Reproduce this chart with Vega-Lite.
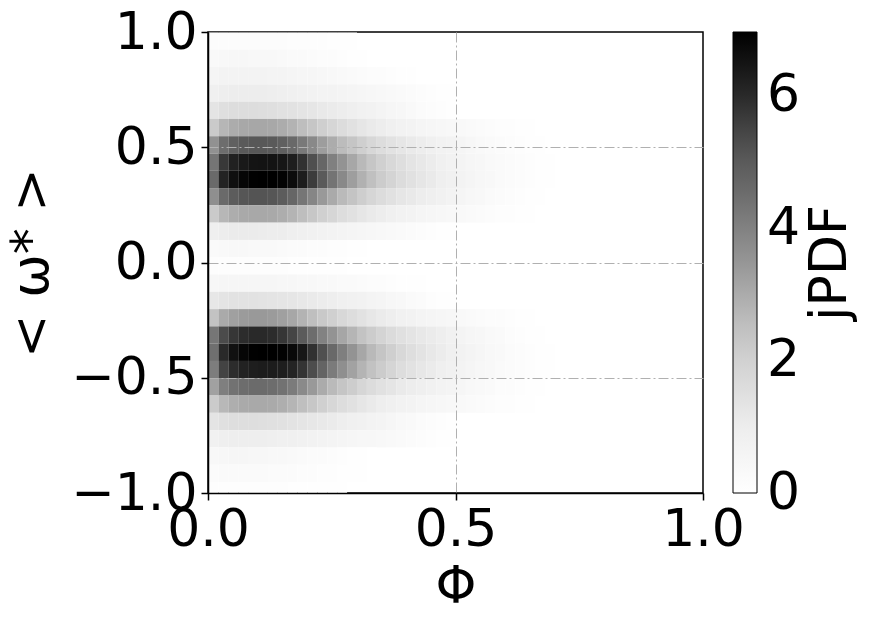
{"$schema":"https://vega.github.io/schema/vega-lite/v6.json","width":495,"height":461,"autosize":{"type":"none"},"padding":{"left":208,"top":32,"right":169,"bottom":133},"background":"white","config":{"font":"DejaVu Sans","view":{"stroke":"black","strokeWidth":1.5},"axis":{"labelFont":"DejaVu Sans","labelFontSize":52,"labelColor":"black","titleFont":"DejaVu Sans","titleFontSize":52,"titleFontWeight":"normal","titleColor":"black","tickColor":"black","tickSize":7,"tickWidth":1.5,"domainColor":"black","domainWidth":1.5,"grid":true,"gridColor":"#b0b0b0","gridDash":[10,3,2,3],"gridWidth":1,"labelPadding":4,"zindex":1,"labelFlush":false,"labelOverlap":false,"labelBound":false}},
"data":{"values":[
{"p":0.01,"w":0.9625,"v":0.16},{"p":0.03,"w":0.9625,"v":0.19},{"p":0.05,"w":0.9625,"v":0.2},{"p":0.07,"w":0.9625,"v":0.2},{"p":0.09,"w":0.9625,"v":0.19},{"p":0.11,"w":0.9625,"v":0.18},{"p":0.13,"w":0.9625,"v":0.17},{"p":0.15,"w":0.9625,"v":0.15},{"p":0.17,"w":0.9625,"v":0.14},{"p":0.19,"w":0.9625,"v":0.12},{"p":0.21,"w":0.9625,"v":0.1},{"p":0.23,"w":0.9625,"v":0.09},{"p":0.25,"w":0.9625,"v":0.07},{"p":0.27,"w":0.9625,"v":0.05},{"p":0.29,"w":0.9625,"v":0.03},
{"p":0.01,"w":0.8875,"v":0.36},{"p":0.03,"w":0.8875,"v":0.43},{"p":0.05,"w":0.8875,"v":0.45},{"p":0.07,"w":0.8875,"v":0.45},{"p":0.09,"w":0.8875,"v":0.43},{"p":0.11,"w":0.8875,"v":0.41},{"p":0.13,"w":0.8875,"v":0.38},{"p":0.15,"w":0.8875,"v":0.35},{"p":0.17,"w":0.8875,"v":0.31},{"p":0.19,"w":0.8875,"v":0.27},{"p":0.21,"w":0.8875,"v":0.23},{"p":0.23,"w":0.8875,"v":0.19},{"p":0.25,"w":0.8875,"v":0.15},{"p":0.27,"w":0.8875,"v":0.11},{"p":0.29,"w":0.8875,"v":0.07},{"p":0.31,"w":0.8875,"v":0.04},{"p":0.33,"w":0.8875,"v":0.02},
{"p":0.01,"w":0.8125,"v":0.6},{"p":0.03,"w":0.8125,"v":0.68},{"p":0.05,"w":0.8125,"v":0.72},{"p":0.07,"w":0.8125,"v":0.72},{"p":0.09,"w":0.8125,"v":0.71},{"p":0.11,"w":0.8125,"v":0.69},{"p":0.13,"w":0.8125,"v":0.66},{"p":0.15,"w":0.8125,"v":0.63},{"p":0.17,"w":0.8125,"v":0.59},{"p":0.19,"w":0.8125,"v":0.55},{"p":0.21,"w":0.8125,"v":0.5},{"p":0.23,"w":0.8125,"v":0.45},{"p":0.25,"w":0.8125,"v":0.4},{"p":0.27,"w":0.8125,"v":0.35},{"p":0.29,"w":0.8125,"v":0.3},{"p":0.31,"w":0.8125,"v":0.25},{"p":0.33,"w":0.8125,"v":0.2},{"p":0.35,"w":0.8125,"v":0.15},{"p":0.37,"w":0.8125,"v":0.1},{"p":0.39,"w":0.8125,"v":0.06},{"p":0.41,"w":0.8125,"v":0.03},
{"p":0.01,"w":0.7375,"v":0.85},{"p":0.03,"w":0.7375,"v":0.95},{"p":0.05,"w":0.7375,"v":1.0},{"p":0.07,"w":0.7375,"v":1.0},{"p":0.09,"w":0.7375,"v":1.0},{"p":0.11,"w":0.7375,"v":0.98},{"p":0.13,"w":0.7375,"v":0.95},{"p":0.15,"w":0.7375,"v":0.92},{"p":0.17,"w":0.7375,"v":0.88},{"p":0.19,"w":0.7375,"v":0.83},{"p":0.21,"w":0.7375,"v":0.78},{"p":0.23,"w":0.7375,"v":0.72},{"p":0.25,"w":0.7375,"v":0.67},{"p":0.27,"w":0.7375,"v":0.62},{"p":0.29,"w":0.7375,"v":0.57},{"p":0.31,"w":0.7375,"v":0.52},{"p":0.33,"w":0.7375,"v":0.46},{"p":0.35,"w":0.7375,"v":0.4},{"p":0.37,"w":0.7375,"v":0.34},{"p":0.39,"w":0.7375,"v":0.28},{"p":0.41,"w":0.7375,"v":0.22},{"p":0.43,"w":0.7375,"v":0.16},{"p":0.45,"w":0.7375,"v":0.1},{"p":0.47,"w":0.7375,"v":0.06},{"p":0.49,"w":0.7375,"v":0.03},
{"p":0.01,"w":0.6625,"v":1.34},{"p":0.03,"w":0.6625,"v":1.5},{"p":0.05,"w":0.6625,"v":1.58},{"p":0.07,"w":0.6625,"v":1.58},{"p":0.09,"w":0.6625,"v":1.58},{"p":0.11,"w":0.6625,"v":1.55},{"p":0.13,"w":0.6625,"v":1.5},{"p":0.15,"w":0.6625,"v":1.45},{"p":0.17,"w":0.6625,"v":1.39},{"p":0.19,"w":0.6625,"v":1.31},{"p":0.21,"w":0.6625,"v":1.23},{"p":0.23,"w":0.6625,"v":1.14},{"p":0.25,"w":0.6625,"v":1.06},{"p":0.27,"w":0.6625,"v":0.98},{"p":0.29,"w":0.6625,"v":0.9},{"p":0.31,"w":0.6625,"v":0.82},{"p":0.33,"w":0.6625,"v":0.73},{"p":0.35,"w":0.6625,"v":0.63},{"p":0.37,"w":0.6625,"v":0.54},{"p":0.39,"w":0.6625,"v":0.44},{"p":0.41,"w":0.6625,"v":0.35},{"p":0.43,"w":0.6625,"v":0.25},{"p":0.45,"w":0.6625,"v":0.16},{"p":0.47,"w":0.6625,"v":0.09},{"p":0.49,"w":0.6625,"v":0.05},
{"p":0.01,"w":0.5875,"v":2.2},{"p":0.03,"w":0.5875,"v":2.76},{"p":0.05,"w":0.5875,"v":2.98},{"p":0.07,"w":0.5875,"v":3.07},{"p":0.09,"w":0.5875,"v":3.1},{"p":0.11,"w":0.5875,"v":3.1},{"p":0.13,"w":0.5875,"v":3.07},{"p":0.15,"w":0.5875,"v":2.98},{"p":0.17,"w":0.5875,"v":2.82},{"p":0.19,"w":0.5875,"v":2.57},{"p":0.21,"w":0.5875,"v":2.33},{"p":0.23,"w":0.5875,"v":2.05},{"p":0.25,"w":0.5875,"v":1.83},{"p":0.27,"w":0.5875,"v":1.61},{"p":0.29,"w":0.5875,"v":1.44},{"p":0.31,"w":0.5875,"v":1.26},{"p":0.33,"w":0.5875,"v":1.1},{"p":0.35,"w":0.5875,"v":0.98},{"p":0.37,"w":0.5875,"v":0.87},{"p":0.39,"w":0.5875,"v":0.76},{"p":0.41,"w":0.5875,"v":0.68},{"p":0.43,"w":0.5875,"v":0.6},{"p":0.45,"w":0.5875,"v":0.54},{"p":0.47,"w":0.5875,"v":0.48},{"p":0.49,"w":0.5875,"v":0.41},{"p":0.51,"w":0.5875,"v":0.34},{"p":0.53,"w":0.5875,"v":0.28},{"p":0.55,"w":0.5875,"v":0.23},{"p":0.57,"w":0.5875,"v":0.18},{"p":0.59,"w":0.5875,"v":0.14},{"p":0.61,"w":0.5875,"v":0.1},{"p":0.63,"w":0.5875,"v":0.06},{"p":0.65,"w":0.5875,"v":0.04},{"p":0.67,"w":0.5875,"v":0.02},
{"p":0.01,"w":0.5125,"v":3.59},{"p":0.03,"w":0.5125,"v":4.49},{"p":0.05,"w":0.5125,"v":4.85},{"p":0.07,"w":0.5125,"v":5.0},{"p":0.09,"w":0.5125,"v":5.05},{"p":0.11,"w":0.5125,"v":5.05},{"p":0.13,"w":0.5125,"v":5.0},{"p":0.15,"w":0.5125,"v":4.85},{"p":0.17,"w":0.5125,"v":4.6},{"p":0.19,"w":0.5125,"v":4.19},{"p":0.21,"w":0.5125,"v":3.79},{"p":0.23,"w":0.5125,"v":3.33},{"p":0.25,"w":0.5125,"v":2.98},{"p":0.27,"w":0.5125,"v":2.63},{"p":0.29,"w":0.5125,"v":2.35},{"p":0.31,"w":0.5125,"v":2.05},{"p":0.33,"w":0.5125,"v":1.79},{"p":0.35,"w":0.5125,"v":1.59},{"p":0.37,"w":0.5125,"v":1.41},{"p":0.39,"w":0.5125,"v":1.24},{"p":0.41,"w":0.5125,"v":1.11},{"p":0.43,"w":0.5125,"v":0.98},{"p":0.45,"w":0.5125,"v":0.88},{"p":0.47,"w":0.5125,"v":0.78},{"p":0.49,"w":0.5125,"v":0.67},{"p":0.51,"w":0.5125,"v":0.56},{"p":0.53,"w":0.5125,"v":0.45},{"p":0.55,"w":0.5125,"v":0.37},{"p":0.57,"w":0.5125,"v":0.3},{"p":0.59,"w":0.5125,"v":0.23},{"p":0.61,"w":0.5125,"v":0.16},{"p":0.63,"w":0.5125,"v":0.1},{"p":0.65,"w":0.5125,"v":0.06},{"p":0.67,"w":0.5125,"v":0.03},{"p":0.69,"w":0.5125,"v":0.02},
{"p":0.01,"w":0.4375,"v":4.29},{"p":0.03,"w":0.4375,"v":5.72},{"p":0.05,"w":0.4375,"v":6.18},{"p":0.07,"w":0.4375,"v":6.37},{"p":0.09,"w":0.4375,"v":6.47},{"p":0.11,"w":0.4375,"v":6.5},{"p":0.13,"w":0.4375,"v":6.5},{"p":0.15,"w":0.4375,"v":6.44},{"p":0.17,"w":0.4375,"v":6.24},{"p":0.19,"w":0.4375,"v":5.85},{"p":0.21,"w":0.4375,"v":5.27},{"p":0.23,"w":0.4375,"v":4.68},{"p":0.25,"w":0.4375,"v":4.03},{"p":0.27,"w":0.4375,"v":3.54},{"p":0.29,"w":0.4375,"v":3.09},{"p":0.31,"w":0.4375,"v":2.7},{"p":0.33,"w":0.4375,"v":2.34},{"p":0.35,"w":0.4375,"v":2.02},{"p":0.37,"w":0.4375,"v":1.76},{"p":0.39,"w":0.4375,"v":1.53},{"p":0.41,"w":0.4375,"v":1.33},{"p":0.43,"w":0.4375,"v":1.16},{"p":0.45,"w":0.4375,"v":1.01},{"p":0.47,"w":0.4375,"v":0.86},{"p":0.49,"w":0.4375,"v":0.74},{"p":0.51,"w":0.4375,"v":0.63},{"p":0.53,"w":0.4375,"v":0.53},{"p":0.55,"w":0.4375,"v":0.44},{"p":0.57,"w":0.4375,"v":0.36},{"p":0.59,"w":0.4375,"v":0.29},{"p":0.61,"w":0.4375,"v":0.21},{"p":0.63,"w":0.4375,"v":0.15},{"p":0.65,"w":0.4375,"v":0.1},{"p":0.67,"w":0.4375,"v":0.06},{"p":0.69,"w":0.4375,"v":0.03},
{"p":0.01,"w":0.3625,"v":4.59},{"p":0.03,"w":0.3625,"v":6.12},{"p":0.05,"w":0.3625,"v":6.6},{"p":0.07,"w":0.3625,"v":6.81},{"p":0.09,"w":0.3625,"v":6.92},{"p":0.11,"w":0.3625,"v":6.95},{"p":0.13,"w":0.3625,"v":6.95},{"p":0.15,"w":0.3625,"v":6.88},{"p":0.17,"w":0.3625,"v":6.67},{"p":0.19,"w":0.3625,"v":6.26},{"p":0.21,"w":0.3625,"v":5.63},{"p":0.23,"w":0.3625,"v":5.0},{"p":0.25,"w":0.3625,"v":4.31},{"p":0.27,"w":0.3625,"v":3.79},{"p":0.29,"w":0.3625,"v":3.3},{"p":0.31,"w":0.3625,"v":2.88},{"p":0.33,"w":0.3625,"v":2.5},{"p":0.35,"w":0.3625,"v":2.15},{"p":0.37,"w":0.3625,"v":1.88},{"p":0.39,"w":0.3625,"v":1.63},{"p":0.41,"w":0.3625,"v":1.42},{"p":0.43,"w":0.3625,"v":1.24},{"p":0.45,"w":0.3625,"v":1.08},{"p":0.47,"w":0.3625,"v":0.92},{"p":0.49,"w":0.3625,"v":0.79},{"p":0.51,"w":0.3625,"v":0.67},{"p":0.53,"w":0.3625,"v":0.56},{"p":0.55,"w":0.3625,"v":0.47},{"p":0.57,"w":0.3625,"v":0.38},{"p":0.59,"w":0.3625,"v":0.31},{"p":0.61,"w":0.3625,"v":0.23},{"p":0.63,"w":0.3625,"v":0.16},{"p":0.65,"w":0.3625,"v":0.1},{"p":0.67,"w":0.3625,"v":0.06},{"p":0.69,"w":0.3625,"v":0.03},
{"p":0.01,"w":0.2875,"v":3.66},{"p":0.03,"w":0.2875,"v":4.58},{"p":0.05,"w":0.2875,"v":4.94},{"p":0.07,"w":0.2875,"v":5.1},{"p":0.09,"w":0.2875,"v":5.15},{"p":0.11,"w":0.2875,"v":5.15},{"p":0.13,"w":0.2875,"v":5.1},{"p":0.15,"w":0.2875,"v":4.94},{"p":0.17,"w":0.2875,"v":4.69},{"p":0.19,"w":0.2875,"v":4.27},{"p":0.21,"w":0.2875,"v":3.86},{"p":0.23,"w":0.2875,"v":3.4},{"p":0.25,"w":0.2875,"v":3.04},{"p":0.27,"w":0.2875,"v":2.68},{"p":0.29,"w":0.2875,"v":2.39},{"p":0.31,"w":0.2875,"v":2.09},{"p":0.33,"w":0.2875,"v":1.83},{"p":0.35,"w":0.2875,"v":1.62},{"p":0.37,"w":0.2875,"v":1.44},{"p":0.39,"w":0.2875,"v":1.26},{"p":0.41,"w":0.2875,"v":1.13},{"p":0.43,"w":0.2875,"v":1.0},{"p":0.45,"w":0.2875,"v":0.9},{"p":0.47,"w":0.2875,"v":0.8},{"p":0.49,"w":0.2875,"v":0.68},{"p":0.51,"w":0.2875,"v":0.57},{"p":0.53,"w":0.2875,"v":0.46},{"p":0.55,"w":0.2875,"v":0.38},{"p":0.57,"w":0.2875,"v":0.3},{"p":0.59,"w":0.2875,"v":0.23},{"p":0.61,"w":0.2875,"v":0.16},{"p":0.63,"w":0.2875,"v":0.1},{"p":0.65,"w":0.2875,"v":0.06},{"p":0.67,"w":0.2875,"v":0.03},{"p":0.69,"w":0.2875,"v":0.02},
{"p":0.01,"w":0.2125,"v":2.19},{"p":0.03,"w":0.2125,"v":2.74},{"p":0.05,"w":0.2125,"v":2.96},{"p":0.07,"w":0.2125,"v":3.05},{"p":0.09,"w":0.2125,"v":3.08},{"p":0.11,"w":0.2125,"v":3.08},{"p":0.13,"w":0.2125,"v":3.05},{"p":0.15,"w":0.2125,"v":2.96},{"p":0.17,"w":0.2125,"v":2.8},{"p":0.19,"w":0.2125,"v":2.56},{"p":0.21,"w":0.2125,"v":2.31},{"p":0.23,"w":0.2125,"v":2.03},{"p":0.25,"w":0.2125,"v":1.82},{"p":0.27,"w":0.2125,"v":1.6},{"p":0.29,"w":0.2125,"v":1.43},{"p":0.31,"w":0.2125,"v":1.25},{"p":0.33,"w":0.2125,"v":1.09},{"p":0.35,"w":0.2125,"v":0.97},{"p":0.37,"w":0.2125,"v":0.86},{"p":0.39,"w":0.2125,"v":0.75},{"p":0.41,"w":0.2125,"v":0.68},{"p":0.43,"w":0.2125,"v":0.6},{"p":0.45,"w":0.2125,"v":0.54},{"p":0.47,"w":0.2125,"v":0.48},{"p":0.49,"w":0.2125,"v":0.41},{"p":0.51,"w":0.2125,"v":0.34},{"p":0.53,"w":0.2125,"v":0.28},{"p":0.55,"w":0.2125,"v":0.22},{"p":0.57,"w":0.2125,"v":0.18},{"p":0.59,"w":0.2125,"v":0.14},{"p":0.61,"w":0.2125,"v":0.1},{"p":0.63,"w":0.2125,"v":0.06},{"p":0.65,"w":0.2125,"v":0.04},{"p":0.67,"w":0.2125,"v":0.02},
{"p":0.01,"w":0.1375,"v":0.89},{"p":0.03,"w":0.1375,"v":1.0},{"p":0.05,"w":0.1375,"v":1.05},{"p":0.07,"w":0.1375,"v":1.05},{"p":0.09,"w":0.1375,"v":1.05},{"p":0.11,"w":0.1375,"v":1.03},{"p":0.13,"w":0.1375,"v":1.0},{"p":0.15,"w":0.1375,"v":0.97},{"p":0.17,"w":0.1375,"v":0.92},{"p":0.19,"w":0.1375,"v":0.87},{"p":0.21,"w":0.1375,"v":0.82},{"p":0.23,"w":0.1375,"v":0.76},{"p":0.25,"w":0.1375,"v":0.7},{"p":0.27,"w":0.1375,"v":0.65},{"p":0.29,"w":0.1375,"v":0.6},{"p":0.31,"w":0.1375,"v":0.55},{"p":0.33,"w":0.1375,"v":0.48},{"p":0.35,"w":0.1375,"v":0.42},{"p":0.37,"w":0.1375,"v":0.36},{"p":0.39,"w":0.1375,"v":0.29},{"p":0.41,"w":0.1375,"v":0.23},{"p":0.43,"w":0.1375,"v":0.17},{"p":0.45,"w":0.1375,"v":0.11},{"p":0.47,"w":0.1375,"v":0.06},{"p":0.49,"w":0.1375,"v":0.03},
{"p":0.01,"w":0.0625,"v":0.3},{"p":0.03,"w":0.0625,"v":0.36},{"p":0.05,"w":0.0625,"v":0.38},{"p":0.07,"w":0.0625,"v":0.38},{"p":0.09,"w":0.0625,"v":0.36},{"p":0.11,"w":0.0625,"v":0.35},{"p":0.13,"w":0.0625,"v":0.32},{"p":0.15,"w":0.0625,"v":0.29},{"p":0.17,"w":0.0625,"v":0.26},{"p":0.19,"w":0.0625,"v":0.23},{"p":0.21,"w":0.0625,"v":0.2},{"p":0.23,"w":0.0625,"v":0.16},{"p":0.25,"w":0.0625,"v":0.13},{"p":0.27,"w":0.0625,"v":0.1},{"p":0.29,"w":0.0625,"v":0.06},{"p":0.31,"w":0.0625,"v":0.03},
{"p":0.01,"w":-0.0125,"v":0.1},{"p":0.03,"w":-0.0125,"v":0.11},{"p":0.05,"w":-0.0125,"v":0.12},{"p":0.07,"w":-0.0125,"v":0.12},{"p":0.09,"w":-0.0125,"v":0.12},{"p":0.11,"w":-0.0125,"v":0.11},{"p":0.13,"w":-0.0125,"v":0.1},{"p":0.15,"w":-0.0125,"v":0.09},{"p":0.17,"w":-0.0125,"v":0.08},{"p":0.19,"w":-0.0125,"v":0.07},{"p":0.21,"w":-0.0125,"v":0.06},{"p":0.23,"w":-0.0125,"v":0.05},{"p":0.25,"w":-0.0125,"v":0.04},{"p":0.27,"w":-0.0125,"v":0.03},
{"p":0.01,"w":-0.0875,"v":0.46},{"p":0.03,"w":-0.0875,"v":0.52},{"p":0.05,"w":-0.0875,"v":0.55},{"p":0.07,"w":-0.0875,"v":0.55},{"p":0.09,"w":-0.0875,"v":0.54},{"p":0.11,"w":-0.0875,"v":0.53},{"p":0.13,"w":-0.0875,"v":0.51},{"p":0.15,"w":-0.0875,"v":0.49},{"p":0.17,"w":-0.0875,"v":0.46},{"p":0.19,"w":-0.0875,"v":0.43},{"p":0.21,"w":-0.0875,"v":0.4},{"p":0.23,"w":-0.0875,"v":0.37},{"p":0.25,"w":-0.0875,"v":0.33},{"p":0.27,"w":-0.0875,"v":0.3},{"p":0.29,"w":-0.0875,"v":0.27},{"p":0.31,"w":-0.0875,"v":0.23},{"p":0.33,"w":-0.0875,"v":0.19},{"p":0.35,"w":-0.0875,"v":0.15},{"p":0.37,"w":-0.0875,"v":0.11},{"p":0.39,"w":-0.0875,"v":0.08},{"p":0.41,"w":-0.0875,"v":0.05},{"p":0.43,"w":-0.0875,"v":0.03},
{"p":0.01,"w":-0.1625,"v":1.19},{"p":0.03,"w":-0.1625,"v":1.33},{"p":0.05,"w":-0.1625,"v":1.4},{"p":0.07,"w":-0.1625,"v":1.4},{"p":0.09,"w":-0.1625,"v":1.4},{"p":0.11,"w":-0.1625,"v":1.37},{"p":0.13,"w":-0.1625,"v":1.33},{"p":0.15,"w":-0.1625,"v":1.29},{"p":0.17,"w":-0.1625,"v":1.23},{"p":0.19,"w":-0.1625,"v":1.16},{"p":0.21,"w":-0.1625,"v":1.09},{"p":0.23,"w":-0.1625,"v":1.01},{"p":0.25,"w":-0.1625,"v":0.94},{"p":0.27,"w":-0.1625,"v":0.87},{"p":0.29,"w":-0.1625,"v":0.8},{"p":0.31,"w":-0.1625,"v":0.73},{"p":0.33,"w":-0.1625,"v":0.64},{"p":0.35,"w":-0.1625,"v":0.56},{"p":0.37,"w":-0.1625,"v":0.48},{"p":0.39,"w":-0.1625,"v":0.39},{"p":0.41,"w":-0.1625,"v":0.31},{"p":0.43,"w":-0.1625,"v":0.22},{"p":0.45,"w":-0.1625,"v":0.14},{"p":0.47,"w":-0.1625,"v":0.08},{"p":0.49,"w":-0.1625,"v":0.04},
{"p":0.01,"w":-0.2375,"v":2.41},{"p":0.03,"w":-0.2375,"v":3.03},{"p":0.05,"w":-0.2375,"v":3.26},{"p":0.07,"w":-0.2375,"v":3.37},{"p":0.09,"w":-0.2375,"v":3.4},{"p":0.11,"w":-0.2375,"v":3.4},{"p":0.13,"w":-0.2375,"v":3.37},{"p":0.15,"w":-0.2375,"v":3.26},{"p":0.17,"w":-0.2375,"v":3.09},{"p":0.19,"w":-0.2375,"v":2.82},{"p":0.21,"w":-0.2375,"v":2.55},{"p":0.23,"w":-0.2375,"v":2.24},{"p":0.25,"w":-0.2375,"v":2.01},{"p":0.27,"w":-0.2375,"v":1.77},{"p":0.29,"w":-0.2375,"v":1.58},{"p":0.31,"w":-0.2375,"v":1.38},{"p":0.33,"w":-0.2375,"v":1.21},{"p":0.35,"w":-0.2375,"v":1.07},{"p":0.37,"w":-0.2375,"v":0.95},{"p":0.39,"w":-0.2375,"v":0.83},{"p":0.41,"w":-0.2375,"v":0.75},{"p":0.43,"w":-0.2375,"v":0.66},{"p":0.45,"w":-0.2375,"v":0.6},{"p":0.47,"w":-0.2375,"v":0.53},{"p":0.49,"w":-0.2375,"v":0.45},{"p":0.51,"w":-0.2375,"v":0.37},{"p":0.53,"w":-0.2375,"v":0.31},{"p":0.55,"w":-0.2375,"v":0.25},{"p":0.57,"w":-0.2375,"v":0.2},{"p":0.59,"w":-0.2375,"v":0.15},{"p":0.61,"w":-0.2375,"v":0.11},{"p":0.63,"w":-0.2375,"v":0.07},{"p":0.65,"w":-0.2375,"v":0.04},{"p":0.67,"w":-0.2375,"v":0.02},
{"p":0.01,"w":-0.3125,"v":4.26},{"p":0.03,"w":-0.3125,"v":5.34},{"p":0.05,"w":-0.3125,"v":5.76},{"p":0.07,"w":-0.3125,"v":5.94},{"p":0.09,"w":-0.3125,"v":6.0},{"p":0.11,"w":-0.3125,"v":6.0},{"p":0.13,"w":-0.3125,"v":5.94},{"p":0.15,"w":-0.3125,"v":5.76},{"p":0.17,"w":-0.3125,"v":5.46},{"p":0.19,"w":-0.3125,"v":4.98},{"p":0.21,"w":-0.3125,"v":4.5},{"p":0.23,"w":-0.3125,"v":3.96},{"p":0.25,"w":-0.3125,"v":3.54},{"p":0.27,"w":-0.3125,"v":3.12},{"p":0.29,"w":-0.3125,"v":2.79},{"p":0.31,"w":-0.3125,"v":2.43},{"p":0.33,"w":-0.3125,"v":2.13},{"p":0.35,"w":-0.3125,"v":1.89},{"p":0.37,"w":-0.3125,"v":1.68},{"p":0.39,"w":-0.3125,"v":1.47},{"p":0.41,"w":-0.3125,"v":1.32},{"p":0.43,"w":-0.3125,"v":1.17},{"p":0.45,"w":-0.3125,"v":1.05},{"p":0.47,"w":-0.3125,"v":0.93},{"p":0.49,"w":-0.3125,"v":0.8},{"p":0.51,"w":-0.3125,"v":0.66},{"p":0.53,"w":-0.3125,"v":0.54},{"p":0.55,"w":-0.3125,"v":0.44},{"p":0.57,"w":-0.3125,"v":0.35},{"p":0.59,"w":-0.3125,"v":0.27},{"p":0.61,"w":-0.3125,"v":0.19},{"p":0.63,"w":-0.3125,"v":0.12},{"p":0.65,"w":-0.3125,"v":0.07},{"p":0.67,"w":-0.3125,"v":0.04},{"p":0.69,"w":-0.3125,"v":0.02},
{"p":0.01,"w":-0.3875,"v":4.45},{"p":0.03,"w":-0.3875,"v":6.0},{"p":0.05,"w":-0.3875,"v":6.55},{"p":0.07,"w":-0.3875,"v":6.8},{"p":0.09,"w":-0.3875,"v":6.92},{"p":0.11,"w":-0.3875,"v":6.95},{"p":0.13,"w":-0.3875,"v":6.95},{"p":0.15,"w":-0.3875,"v":6.9},{"p":0.17,"w":-0.3875,"v":6.75},{"p":0.19,"w":-0.3875,"v":6.4},{"p":0.21,"w":-0.3875,"v":5.85},{"p":0.23,"w":-0.3875,"v":5.25},{"p":0.25,"w":-0.3875,"v":4.6},{"p":0.27,"w":-0.3875,"v":4.05},{"p":0.29,"w":-0.3875,"v":3.55},{"p":0.31,"w":-0.3875,"v":3.1},{"p":0.33,"w":-0.3875,"v":2.7},{"p":0.35,"w":-0.3875,"v":2.35},{"p":0.37,"w":-0.3875,"v":2.05},{"p":0.39,"w":-0.3875,"v":1.78},{"p":0.41,"w":-0.3875,"v":1.55},{"p":0.43,"w":-0.3875,"v":1.35},{"p":0.45,"w":-0.3875,"v":1.18},{"p":0.47,"w":-0.3875,"v":1.02},{"p":0.49,"w":-0.3875,"v":0.88},{"p":0.51,"w":-0.3875,"v":0.75},{"p":0.53,"w":-0.3875,"v":0.63},{"p":0.55,"w":-0.3875,"v":0.52},{"p":0.57,"w":-0.3875,"v":0.43},{"p":0.59,"w":-0.3875,"v":0.34},{"p":0.61,"w":-0.3875,"v":0.26},{"p":0.63,"w":-0.3875,"v":0.18},{"p":0.65,"w":-0.3875,"v":0.12},{"p":0.67,"w":-0.3875,"v":0.07},{"p":0.69,"w":-0.3875,"v":0.03},
{"p":0.01,"w":-0.4625,"v":4.1},{"p":0.03,"w":-0.4625,"v":5.5},{"p":0.05,"w":-0.4625,"v":5.95},{"p":0.07,"w":-0.4625,"v":6.15},{"p":0.09,"w":-0.4625,"v":6.25},{"p":0.11,"w":-0.4625,"v":6.3},{"p":0.13,"w":-0.4625,"v":6.3},{"p":0.15,"w":-0.4625,"v":6.25},{"p":0.17,"w":-0.4625,"v":6.1},{"p":0.19,"w":-0.4625,"v":5.8},{"p":0.21,"w":-0.4625,"v":5.3},{"p":0.23,"w":-0.4625,"v":4.75},{"p":0.25,"w":-0.4625,"v":4.15},{"p":0.27,"w":-0.4625,"v":3.65},{"p":0.29,"w":-0.4625,"v":3.2},{"p":0.31,"w":-0.4625,"v":2.8},{"p":0.33,"w":-0.4625,"v":2.45},{"p":0.35,"w":-0.4625,"v":2.13},{"p":0.37,"w":-0.4625,"v":1.85},{"p":0.39,"w":-0.4625,"v":1.6},{"p":0.41,"w":-0.4625,"v":1.4},{"p":0.43,"w":-0.4625,"v":1.22},{"p":0.45,"w":-0.4625,"v":1.06},{"p":0.47,"w":-0.4625,"v":0.92},{"p":0.49,"w":-0.4625,"v":0.8},{"p":0.51,"w":-0.4625,"v":0.68},{"p":0.53,"w":-0.4625,"v":0.57},{"p":0.55,"w":-0.4625,"v":0.47},{"p":0.57,"w":-0.4625,"v":0.39},{"p":0.59,"w":-0.4625,"v":0.31},{"p":0.61,"w":-0.4625,"v":0.23},{"p":0.63,"w":-0.4625,"v":0.16},{"p":0.65,"w":-0.4625,"v":0.11},{"p":0.67,"w":-0.4625,"v":0.06},{"p":0.69,"w":-0.4625,"v":0.03},
{"p":0.01,"w":-0.5375,"v":3.23},{"p":0.03,"w":-0.5375,"v":4.05},{"p":0.05,"w":-0.5375,"v":4.37},{"p":0.07,"w":-0.5375,"v":4.5},{"p":0.09,"w":-0.5375,"v":4.55},{"p":0.11,"w":-0.5375,"v":4.55},{"p":0.13,"w":-0.5375,"v":4.5},{"p":0.15,"w":-0.5375,"v":4.37},{"p":0.17,"w":-0.5375,"v":4.14},{"p":0.19,"w":-0.5375,"v":3.78},{"p":0.21,"w":-0.5375,"v":3.41},{"p":0.23,"w":-0.5375,"v":3.0},{"p":0.25,"w":-0.5375,"v":2.68},{"p":0.27,"w":-0.5375,"v":2.37},{"p":0.29,"w":-0.5375,"v":2.12},{"p":0.31,"w":-0.5375,"v":1.84},{"p":0.33,"w":-0.5375,"v":1.62},{"p":0.35,"w":-0.5375,"v":1.43},{"p":0.37,"w":-0.5375,"v":1.27},{"p":0.39,"w":-0.5375,"v":1.11},{"p":0.41,"w":-0.5375,"v":1.0},{"p":0.43,"w":-0.5375,"v":0.89},{"p":0.45,"w":-0.5375,"v":0.8},{"p":0.47,"w":-0.5375,"v":0.71},{"p":0.49,"w":-0.5375,"v":0.61},{"p":0.51,"w":-0.5375,"v":0.5},{"p":0.53,"w":-0.5375,"v":0.41},{"p":0.55,"w":-0.5375,"v":0.33},{"p":0.57,"w":-0.5375,"v":0.27},{"p":0.59,"w":-0.5375,"v":0.2},{"p":0.61,"w":-0.5375,"v":0.15},{"p":0.63,"w":-0.5375,"v":0.09},{"p":0.65,"w":-0.5375,"v":0.05},{"p":0.67,"w":-0.5375,"v":0.03},
{"p":0.01,"w":-0.6125,"v":2.17},{"p":0.03,"w":-0.6125,"v":2.71},{"p":0.05,"w":-0.6125,"v":2.93},{"p":0.07,"w":-0.6125,"v":3.02},{"p":0.09,"w":-0.6125,"v":3.05},{"p":0.11,"w":-0.6125,"v":3.05},{"p":0.13,"w":-0.6125,"v":3.02},{"p":0.15,"w":-0.6125,"v":2.93},{"p":0.17,"w":-0.6125,"v":2.78},{"p":0.19,"w":-0.6125,"v":2.53},{"p":0.21,"w":-0.6125,"v":2.29},{"p":0.23,"w":-0.6125,"v":2.01},{"p":0.25,"w":-0.6125,"v":1.8},{"p":0.27,"w":-0.6125,"v":1.59},{"p":0.29,"w":-0.6125,"v":1.42},{"p":0.31,"w":-0.6125,"v":1.24},{"p":0.33,"w":-0.6125,"v":1.08},{"p":0.35,"w":-0.6125,"v":0.96},{"p":0.37,"w":-0.6125,"v":0.85},{"p":0.39,"w":-0.6125,"v":0.75},{"p":0.41,"w":-0.6125,"v":0.67},{"p":0.43,"w":-0.6125,"v":0.59},{"p":0.45,"w":-0.6125,"v":0.53},{"p":0.47,"w":-0.6125,"v":0.47},{"p":0.49,"w":-0.6125,"v":0.41},{"p":0.51,"w":-0.6125,"v":0.34},{"p":0.53,"w":-0.6125,"v":0.27},{"p":0.55,"w":-0.6125,"v":0.22},{"p":0.57,"w":-0.6125,"v":0.18},{"p":0.59,"w":-0.6125,"v":0.14},{"p":0.61,"w":-0.6125,"v":0.1},{"p":0.63,"w":-0.6125,"v":0.06},{"p":0.65,"w":-0.6125,"v":0.04},{"p":0.67,"w":-0.6125,"v":0.02},
{"p":0.01,"w":-0.6875,"v":1.32},{"p":0.03,"w":-0.6875,"v":1.47},{"p":0.05,"w":-0.6875,"v":1.55},{"p":0.07,"w":-0.6875,"v":1.55},{"p":0.09,"w":-0.6875,"v":1.55},{"p":0.11,"w":-0.6875,"v":1.52},{"p":0.13,"w":-0.6875,"v":1.47},{"p":0.15,"w":-0.6875,"v":1.43},{"p":0.17,"w":-0.6875,"v":1.36},{"p":0.19,"w":-0.6875,"v":1.29},{"p":0.21,"w":-0.6875,"v":1.21},{"p":0.23,"w":-0.6875,"v":1.12},{"p":0.25,"w":-0.6875,"v":1.04},{"p":0.27,"w":-0.6875,"v":0.96},{"p":0.29,"w":-0.6875,"v":0.88},{"p":0.31,"w":-0.6875,"v":0.81},{"p":0.33,"w":-0.6875,"v":0.71},{"p":0.35,"w":-0.6875,"v":0.62},{"p":0.37,"w":-0.6875,"v":0.53},{"p":0.39,"w":-0.6875,"v":0.43},{"p":0.41,"w":-0.6875,"v":0.34},{"p":0.43,"w":-0.6875,"v":0.25},{"p":0.45,"w":-0.6875,"v":0.16},{"p":0.47,"w":-0.6875,"v":0.09},{"p":0.49,"w":-0.6875,"v":0.05},
{"p":0.01,"w":-0.7625,"v":0.81},{"p":0.03,"w":-0.7625,"v":0.9},{"p":0.05,"w":-0.7625,"v":0.95},{"p":0.07,"w":-0.7625,"v":0.95},{"p":0.09,"w":-0.7625,"v":0.95},{"p":0.11,"w":-0.7625,"v":0.93},{"p":0.13,"w":-0.7625,"v":0.9},{"p":0.15,"w":-0.7625,"v":0.87},{"p":0.17,"w":-0.7625,"v":0.84},{"p":0.19,"w":-0.7625,"v":0.79},{"p":0.21,"w":-0.7625,"v":0.74},{"p":0.23,"w":-0.7625,"v":0.68},{"p":0.25,"w":-0.7625,"v":0.64},{"p":0.27,"w":-0.7625,"v":0.59},{"p":0.29,"w":-0.7625,"v":0.54},{"p":0.31,"w":-0.7625,"v":0.49},{"p":0.33,"w":-0.7625,"v":0.44},{"p":0.35,"w":-0.7625,"v":0.38},{"p":0.37,"w":-0.7625,"v":0.32},{"p":0.39,"w":-0.7625,"v":0.27},{"p":0.41,"w":-0.7625,"v":0.21},{"p":0.43,"w":-0.7625,"v":0.15},{"p":0.45,"w":-0.7625,"v":0.1},{"p":0.47,"w":-0.7625,"v":0.06},{"p":0.49,"w":-0.7625,"v":0.03},
{"p":0.01,"w":-0.8375,"v":0.4},{"p":0.03,"w":-0.8375,"v":0.48},{"p":0.05,"w":-0.8375,"v":0.5},{"p":0.07,"w":-0.8375,"v":0.5},{"p":0.09,"w":-0.8375,"v":0.48},{"p":0.11,"w":-0.8375,"v":0.46},{"p":0.13,"w":-0.8375,"v":0.42},{"p":0.15,"w":-0.8375,"v":0.39},{"p":0.17,"w":-0.8375,"v":0.35},{"p":0.19,"w":-0.8375,"v":0.31},{"p":0.21,"w":-0.8375,"v":0.26},{"p":0.23,"w":-0.8375,"v":0.22},{"p":0.25,"w":-0.8375,"v":0.17},{"p":0.27,"w":-0.8375,"v":0.13},{"p":0.29,"w":-0.8375,"v":0.08},{"p":0.31,"w":-0.8375,"v":0.05},{"p":0.33,"w":-0.8375,"v":0.02},
{"p":0.01,"w":-0.9125,"v":0.24},{"p":0.03,"w":-0.9125,"v":0.29},{"p":0.05,"w":-0.9125,"v":0.3},{"p":0.07,"w":-0.9125,"v":0.3},{"p":0.09,"w":-0.9125,"v":0.29},{"p":0.11,"w":-0.9125,"v":0.27},{"p":0.13,"w":-0.9125,"v":0.25},{"p":0.15,"w":-0.9125,"v":0.23},{"p":0.17,"w":-0.9125,"v":0.21},{"p":0.19,"w":-0.9125,"v":0.18},{"p":0.21,"w":-0.9125,"v":0.16},{"p":0.23,"w":-0.9125,"v":0.13},{"p":0.25,"w":-0.9125,"v":0.1},{"p":0.27,"w":-0.9125,"v":0.08},{"p":0.29,"w":-0.9125,"v":0.05},{"p":0.31,"w":-0.9125,"v":0.03},
{"p":0.01,"w":-0.9875,"v":0.1},{"p":0.03,"w":-0.9875,"v":0.11},{"p":0.05,"w":-0.9875,"v":0.12},{"p":0.07,"w":-0.9875,"v":0.12},{"p":0.09,"w":-0.9875,"v":0.12},{"p":0.11,"w":-0.9875,"v":0.11},{"p":0.13,"w":-0.9875,"v":0.1},{"p":0.15,"w":-0.9875,"v":0.09},{"p":0.17,"w":-0.9875,"v":0.08},{"p":0.19,"w":-0.9875,"v":0.07},{"p":0.21,"w":-0.9875,"v":0.06},{"p":0.23,"w":-0.9875,"v":0.05},{"p":0.25,"w":-0.9875,"v":0.04},{"p":0.27,"w":-0.9875,"v":0.03}
]},
"mark":{"type":"rect","clip":true},
"encoding":{
"x":{"field":"p","type":"quantitative","bin":{"step":0.02,"extent":[0,1],"nice":false},"scale":{"domain":[0,1]},"axis":{"title":"Φ","values":[0,0.5,1],"format":".1f","titlePadding":6,"grid":true,"zindex":1,"gridOpacity":{"condition":{"test":"datum.value == 0 || datum.value == 1","value":0},"value":1}}},
"y":{"field":"w","type":"quantitative","bin":{"step":0.075,"extent":[-1.025,1.0],"nice":false},"scale":{"domain":[-1,1]},"axis":{"title":"< ω* >","values":[-1,-0.5,0,0.5,1],"format":".1f","titlePadding":12,"grid":true,"zindex":1,"gridOpacity":{"condition":{"test":"abs(datum.value) == 1","value":0},"value":1}}},
"color":{"aggregate":"sum","field":"v","type":"quantitative","scale":{"domain":[0,0.86875,1.7375,2.60625,3.475,4.34375,5.2125,6.08125,6.95],"range":["#ffffff","#f0f0f0","#d9d9d9","#bdbdbd","#969696","#737373","#525252","#252525","#000000"],"interpolate":"rgb"},"legend":{"title":"jPDF","orient":"right","offset":30,"padding":0,"direction":"vertical","gradientLength":461,"gradientThickness":24,"gradientStrokeColor":"black","gradientStrokeWidth":1,"values":[0,2,4,6],"format":"d","labelFont":"DejaVu Sans","labelFontSize":52,"labelColor":"black","labelOffset":10,"labelOverlap":false,"titleFont":"DejaVu Sans","titleFontSize":52,"titleFontWeight":"normal","titleColor":"black","titleOrient":"right","titleAnchor":"middle","titleBaseline":"top","titlePadding":5,"encode":{"labels":{"update":{"baseline":{"value":"middle"}}},"title":{"update":{"angle":{"value":270}}}}}}
}}
